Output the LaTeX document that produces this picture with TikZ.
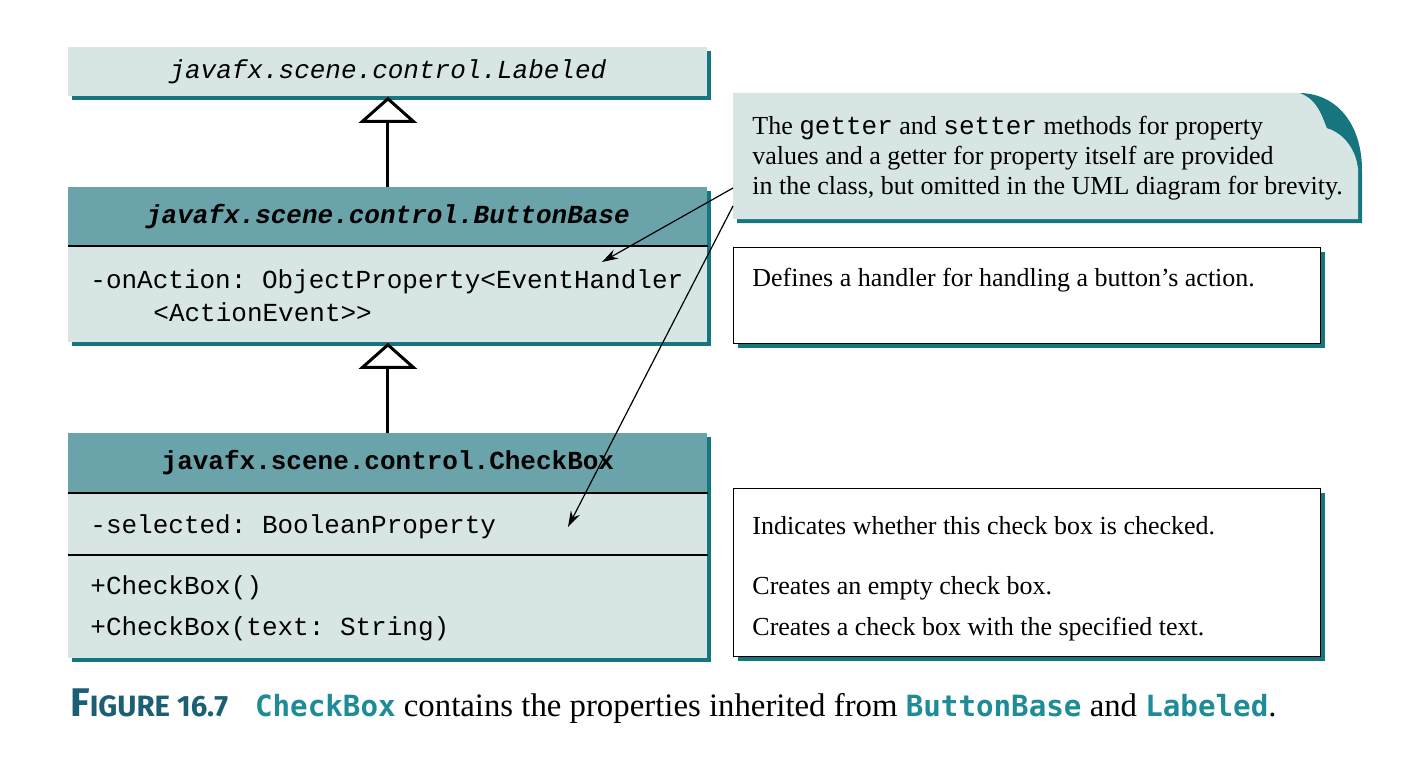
\documentclass[tikz,border=0pt]{standalone}
\usepackage{fontspec}
\setmainfont{Liberation Serif}
\setmonofont{Liberation Mono}
\newfontfamily\figsans{Fira Sans}
\newfontfamily\figmono{DejaVu Sans Mono}
\usepackage{xcolor}
\usetikzlibrary{arrows.meta,shadows,positioning}
\definecolor{umlfill}{HTML}{D8E5E5}
\definecolor{umlhead}{HTML}{6BA3AA}
\definecolor{umlshadow}{HTML}{16767F}
\definecolor{capteal}{HTML}{1E8C97}
\definecolor{figteal}{HTML}{1B5F74}
\tikzset{
	tealshadow/.style={drop shadow={shadow xshift=2pt,shadow yshift=-2pt,fill=umlshadow,opacity=1}},
	umlpart/.style={rectangle, anchor=north west, inner sep=0pt, minimum width=319.5pt, fill=umlfill, tealshadow},
	umltitle/.style={umlpart, fill=umlhead},
	descbox/.style={rectangle, anchor=north west, inner sep=0pt, minimum width=293.5pt, draw=black, line width=0.6pt, fill=white, tealshadow},
	member/.style={anchor=west, inner sep=0pt, font=\ttfamily\fontsize{13}{15}\selectfont},
	remark/.style={anchor=west, inner sep=0pt, font=\fontsize{13}{15}\selectfont},
	inherit/.style={-{Triangle[open,width=29pt,length=13pt,line width=1.5pt]}, line width=1.5pt},
	pointer/.style={-{Stealth[length=8pt,width=5pt]}, line width=0.6pt}
}
\newcommand{\capcode}[1]{{\color{capteal}\figmono\bfseries\fontsize{14.6}{16}\selectfont #1}}
\begin{document}
\begin{tikzpicture}[x=0.5pt,y=-0.5pt]
	\useasboundingbox (0,0) rectangle (1423,765);
	% class boxes
	\node[umlpart, minimum height=24.5pt, font=\ttfamily\itshape\fontsize{13}{15}\selectfont] (labeled) at (68,47) {javafx.scene.control.Labeled};
	\node[umltitle, minimum height=29pt, font=\ttfamily\bfseries\itshape\fontsize{13}{15}\selectfont] (bbtitle) at (68,187) {javafx.scene.control.ButtonBase};
	\node[umlpart, minimum height=48.5pt] (bbattr) at (68,245) {};
	\node[umltitle, minimum height=29.5pt, font=\ttfamily\bfseries\fontsize{13}{15}\selectfont] (cbtitle) at (68,433) {javafx.scene.control.CheckBox};
	\node[umlpart, minimum height=31pt] (cbattr) at (68,492) {};
	\node[umlpart, minimum height=52pt] (cbops) at (68,554) {};
	\draw[line width=0.75pt] (bbtitle.south west) -- (bbtitle.south east);
	\draw[line width=0.75pt] (cbtitle.south west) -- (cbtitle.south east);
	\draw[line width=0.75pt] (cbattr.south west) -- (cbattr.south east);
	% members
	\node[member] (onaction) at (90,282) {-onAction: ObjectProperty<EventHandler};
	\node[member] (actevent) at (153,312) {<ActionEvent>{}>};
	\node[member] (selected) at (90,527) {-selected: BooleanProperty};
	\node[member] (ctor) at (90,588) {+CheckBox()};
	\node[member] (ctortext) at (90,629) {+CheckBox(text: String)};
	% inheritance
	\draw[inherit] (bbtitle.north) -- (labeled.south);
	\draw[inherit] (cbtitle.north) -- (bbattr.south);
	% note with folded corner
	\path[fill=umlfill, tealshadow] (733,93) -- (1300,93) .. controls (1318,100) and (1322,116) .. (1327,128)
		.. controls (1345,134) and (1356,150) .. (1358,168) -- (1358,219) -- (733,219) -- cycle;
	\fill[umlshadow] (1300,93) .. controls (1340,94) and (1362,128) .. (1362,170) -- (1358,168)
		.. controls (1356,150) and (1345,134) .. (1327,128) .. controls (1322,116) and (1318,100) .. (1300,93);
	\node[remark, align=left] (note) at (752,158) {The \texttt{getter} and \texttt{setter} methods for property\\
		values and a getter for property itself are provided\\
		in the class, but omitted in the UML diagram for brevity.};
	\coordinate (notetip1) at (733,188);
	\coordinate (notetip2) at (733,206);
	\coordinate (bbhint) at (602,262);
	\coordinate (cbhint) at (568,527);
	\draw[pointer] (notetip1) -- (bbhint);
	\draw[pointer] (notetip2) -- (cbhint);
	% descriptions
	\node[descbox, minimum height=48pt] (bbdesc) at (733,247) {};
	\node[descbox, minimum height=84pt] (cbdesc) at (733,488) {};
	\node[remark] (handler) at (752,280) {Defines a handler for handling a button’s action.};
	\node[remark] (checked) at (752,526) {Indicates whether this check box is checked.};
	\node[remark] (empty) at (752,588) {Creates an empty check box.};
	\node[remark] (withtext) at (752,629) {Creates a check box with the specified text.};
	% caption
	\node[anchor=base west, inner sep=0pt, font=\fontsize{16.4}{18}\selectfont] (caption) at (70,716)
		{{\color{figteal}\figsans\bfseries\fontsize{20}{20}\selectfont F\fontsize{14.7}{15}\selectfont IGURE 16.7}\hspace{13.5pt}%
		\capcode{CheckBox} contains the properties inherited from \capcode{ButtonBase} and \capcode{Labeled}.};
\end{tikzpicture}
\end{document}
